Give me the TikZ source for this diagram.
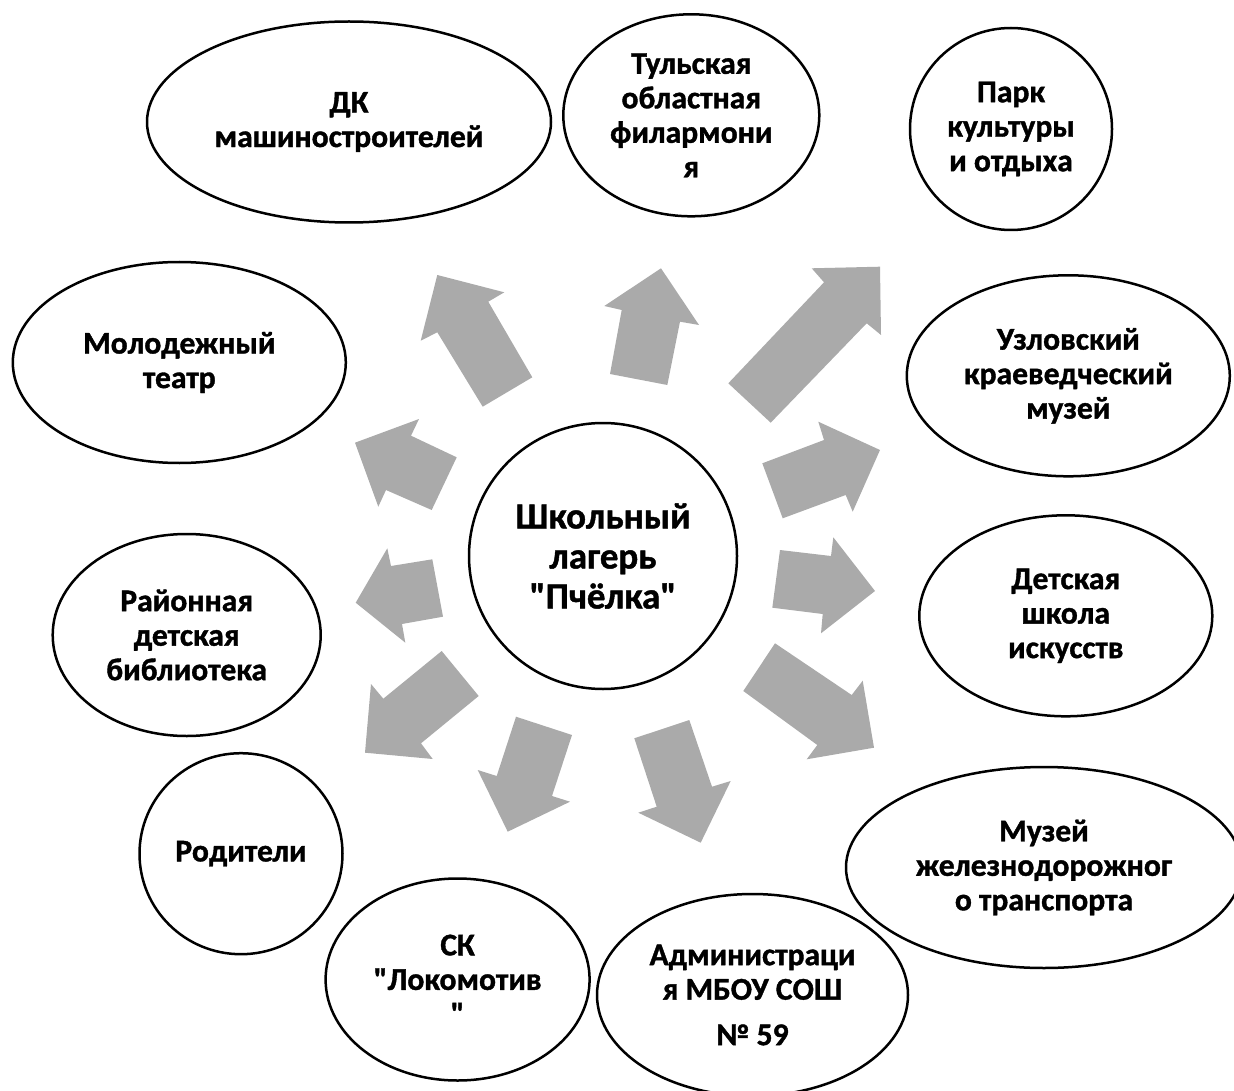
\documentclass[tikz,border=0pt]{standalone}
\usepackage{fontspec}
\setmainfont{Carlito}[Ligatures=TeXOff, BoldFeatures={FakeBold=1.2}]
\usetikzlibrary{shapes.geometric}
\definecolor{arrowgray}{HTML}{AAAAAA}
\tikzset{
  place/.style={ellipse, draw=black, line width=2.5pt, fill=white, inner sep=0pt,
    align=center, font=\fontsize{31.6}{34.5}\selectfont\bfseries},
  hub/.style={place, font=\fontsize{36.9}{40}\selectfont\bfseries},
  blockarrow/.style={fill=arrowgray}
}
\begin{document}
\begin{tikzpicture}[x=1pt,y=-1pt]
\useasboundingbox (0,0) rectangle (1234,1091);
% block arrows
\fill[blockarrow] (437.3,275) -- (504.3,292.3) -- (488.3,301.7) -- (532.3,377.3) -- (482.7,406.7) -- (437.3,332.3) -- (420.7,340.7) -- cycle;
\fill[blockarrow] (661,268.3) -- (699,325) -- (680,321.7) -- (667.3,385) -- (610,374) -- (621.7,310) -- (604.3,306) -- cycle;
\fill[blockarrow] (880,266.7) -- (881,335) -- (866.7,323.3) -- (770.7,422.7) -- (728.3,383.3) -- (824,282.3) -- (811.7,268.3) -- cycle;
\fill[blockarrow] (880,450) -- (852.7,511.7) -- (845.7,495) -- (782.7,518.3) -- (762.3,463.3) -- (824,440) -- (818.3,421.7) -- cycle;
\fill[blockarrow] (875,591) -- (821,633.3) -- (822.7,614) -- (772.3,607.7) -- (780,550) -- (831,556) -- (833.3,537.3) -- cycle;
\fill[blockarrow] (874,747.7) -- (806.7,759.3) -- (817.3,745) -- (743.3,691) -- (775,643.3) -- (851.7,695) -- (862.7,680.7) -- cycle;
\fill[blockarrow] (700.7,842.7) -- (638.3,812.7) -- (656.7,806.7) -- (634.3,738.3) -- (689.3,720) -- (712,786.7) -- (730.7,781) -- cycle;
\fill[blockarrow] (507.7,831.7) -- (477.7,770) -- (496.7,776) -- (516,716.7) -- (572,735) -- (552,796) -- (570,801.7) -- cycle;
\fill[blockarrow] (365,752.7) -- (371,684) -- (383.3,698.7) -- (441.7,651) -- (478.7,696) -- (421,743.3) -- (432.7,759) -- cycle;
\fill[blockarrow] (355.7,602.7) -- (387.3,548.3) -- (391,566) -- (432.3,559.3) -- (443,616.7) -- (402,624) -- (405.3,642.7) -- cycle;
\fill[blockarrow] (355,442.7) -- (419,419) -- (411,435.7) -- (456.7,457.3) -- (431.7,510) -- (386,490) -- (378.3,506.7) -- cycle;
% places
\node[hub, minimum width=268pt, minimum height=266pt] (camp) at (603,556) {Школьный\\лагерь\\"Пчёлка"};
\node[place, minimum width=404pt, minimum height=201pt] (dk) at (349,122) {ДК\\машиностроителей};
\node[place, minimum width=256pt, minimum height=202pt] (fil) at (691.3,115.3) {Тульская\\областная\\филармони\\я};
\node[place, minimum width=202pt, minimum height=202pt] (park) at (1011,129) {Парк\\культуры\\и отдыха};
\node[place, minimum width=333pt, minimum height=201pt] (teatr) at (179.3,362.5) {Молодежный\\театр};
\node[place, minimum width=323pt, minimum height=201pt] (uzl) at (1068.3,375.8) {Узловский\\краеведческий\\музей};
\node[place, minimum width=268pt, minimum height=202pt] (bibl) at (186.7,635) {Районная\\детская\\библиотека};
\node[place, minimum width=293pt, minimum height=201pt] (dshi) at (1065.8,615.8) {Детская\\школа\\искусств};
\node[place, minimum width=203pt, minimum height=201pt] (rod) at (241,853.7) {Родители};
\node[place, minimum width=396pt, minimum height=201pt] (muz) at (1044,867.5) {Музей\\железнодорожног\\о транспорта};
\node[place, minimum width=264pt, minimum height=202pt] (sk) at (457.6,979.5) {СК\\"Локомотив\\"};
\node[place, minimum width=311pt, minimum height=202pt] (adm) at (752.5,995) {Администраци\\я МБОУ СОШ\\[11pt]№ 59};
\end{tikzpicture}
\end{document}
